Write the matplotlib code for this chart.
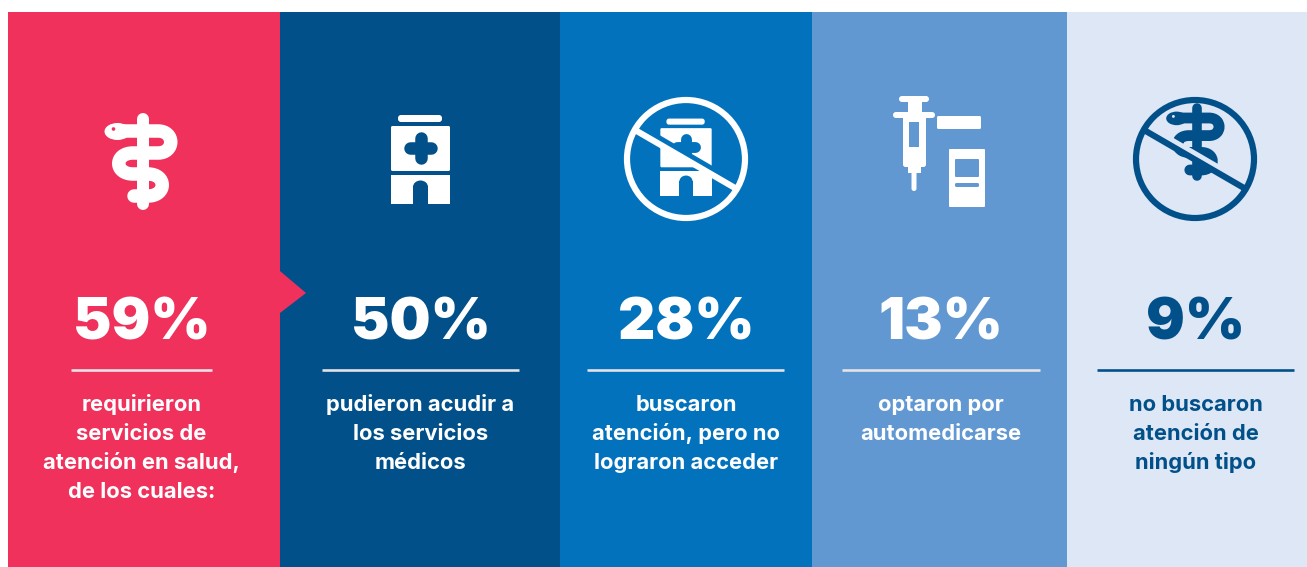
"""Health-care access infographic: five coloured panels with icons and percentages."""

from __future__ import annotations

import matplotlib

matplotlib.use("Agg")
import matplotlib.pyplot as plt
from matplotlib.patches import Circle, Ellipse, FancyBboxPatch, PathPatch, Polygon, Rectangle
from matplotlib.path import Path

percent_labels = ["59%", "50%", "28%", "13%", "9%"]
descriptions = [
    ["requirieron", "servicios de", "atención en salud,", "de los cuales:"],
    ["pudieron acudir a", "los servicios", "médicos"],
    ["buscaron", "atención, pero no", "lograron acceder"],
    ["optaron por", "automedicarse"],
    ["no buscaron", "atención de", "ningún tipo"],
]
panel_colors = ["#EF315C", "#015089", "#0372BC", "#6298D2", "#DEE7F6"]
text_colors = ["white", "white", "white", "white", "#015089"]
rule_colors = ["#E4E4E8", "#E4E4E8", "#E4E4E8", "#E4E4E8", "#015089"]

# layout, in reference pixels
panel_edges = [8, 280, 560, 812, 1067, 1307]
text_centers = [141.5, 420.5, 686, 941, 1195.5]
rule_spans = [(71, 212), (322, 519), (587, 784), (842, 1040), (1097, 1294)]
line_baselines = [411, 440, 469, 498]

PX = 72 / 100  # points per pixel at dpi 100


def rounded(ax, x0, y0, x1, y1, color, radius=2.0, zorder=3):
    ax.add_patch(
        FancyBboxPatch(
            (x0 + radius, y0 + radius),
            x1 - x0 - 2 * radius,
            y1 - y0 - 2 * radius,
            boxstyle=f"round,pad={radius},rounding_size={radius}",
            fc=color,
            ec="none",
            zorder=zorder,
        )
    )


def draw_snake(ax, color, bg, ox=143.0, oy=131.0, tx=143.0, ty=131.0, s=1.0, zorder=3):
    """Rod of Asclepius, drawn in its own pixel frame and moved to (tx, ty)."""

    def m(x, y):
        return (tx + (x - ox) * s, ty + (y - oy) * s)

    ax.plot(*zip(m(143, 119), m(143, 204)), color=color, lw=12 * s * PX,
            solid_capstyle="round", zorder=zorder)
    points = [(120, 131), (158, 131), (175, 131), (175, 153), (158, 153),
              (133, 153), (114, 153), (114, 174), (133, 174),
              (148, 174), (167, 174), (167, 196), (148, 196), (134, 196)]
    codes = [Path.MOVETO, Path.LINETO, Path.CURVE4, Path.CURVE4, Path.CURVE4,
             Path.LINETO, Path.CURVE4, Path.CURVE4, Path.CURVE4,
             Path.LINETO, Path.CURVE4, Path.CURVE4, Path.CURVE4, Path.LINETO]
    path = Path([m(*p) for p in points], codes)
    ax.add_patch(PathPatch(path, fc="none", ec=color, lw=13.5 * s * PX,
                           capstyle="round", joinstyle="round", zorder=zorder))
    ax.add_patch(Ellipse(m(117.5, 131.5), 26 * s, 17 * s, fc=color, ec="none", zorder=zorder))
    ax.add_patch(Circle(m(113.5, 129), 1.8 * s, fc=bg, ec="none", zorder=zorder + 0.1))


def draw_hospital(ax, color, bg, cx, bottom, s=1.0, zorder=3):
    def m(x, y):
        return (cx + (x - 420.5) * s, bottom + (y - 204) * s)

    rounded(ax, *m(398, 115), *m(442, 122), color, radius=3 * s, zorder=zorder)
    rounded(ax, *m(391, 126), *m(450, 171), color, radius=1.5 * s, zorder=zorder)
    x0, y0 = m(391, 175)
    x1, y1 = m(450, 204)
    ax.add_patch(Rectangle((x0, y0), x1 - x0, y1 - y0, fc=color, ec="none", zorder=zorder))
    # door
    x0, y0 = m(413, 187)
    x1, y1 = m(428, 204)
    ax.add_patch(Rectangle((x0, y0), x1 - x0, y1 - y0, fc=bg, ec="none", zorder=zorder + 0.1))
    ax.add_patch(Ellipse(m(420.5, 187), 15 * s, 13 * s, fc=bg, ec="none", zorder=zorder + 0.1))
    # cross
    for a, b in [((420.5, 138), (420.5, 158)), ((410, 148), (431, 148))]:
        ax.plot(*zip(m(*a), m(*b)), color=bg, lw=12.5 * s * PX,
                solid_capstyle="round", zorder=zorder + 0.1)


def draw_ban(ax, color, bg, cx, zorder=5):
    a = (cx - 51, 130)
    b = (cx + 49, 188)
    # gap just above the slash
    ax.plot([a[0] + 2, b[0] - 2], [a[1] - 4, b[1] - 6], color=bg, lw=7 * PX,
            solid_capstyle="butt", zorder=zorder - 0.5)
    ax.plot([a[0], b[0]], [a[1], b[1]], color=color, lw=6.2 * PX,
            solid_capstyle="butt", zorder=zorder)
    ax.add_patch(Circle((cx, 159), 59, fc="none", ec=color, lw=6.2 * PX, zorder=zorder))


def draw_syringe(ax, color, bg):
    rounded(ax, 899, 96, 929, 102, color, radius=3)
    ax.add_patch(Rectangle((908, 101), 14, 12, fc=color, ec="none", zorder=3))
    rounded(ax, 893, 112, 935, 118, color, radius=3)
    rounded(ax, 903, 116, 926, 167, color, radius=2.5)
    ax.add_patch(Rectangle((908, 165), 13, 8, fc=color, ec="none", zorder=3))
    rounded(ax, 911.5, 170, 916.5, 191, color, radius=2.5)
    ax.add_patch(Rectangle((909, 122), 10, 25, fc=bg, ec="none", zorder=3.1))
    # loose cap and vial
    rounded(ax, 937, 116, 981, 129, color, radius=1.5)
    rounded(ax, 949, 149, 985, 207, color, radius=1)
    rounded(ax, 955, 159, 979, 177, bg, radius=1, zorder=3.1)
    rounded(ax, 955, 183, 979, 187, bg, radius=1.5, zorder=3.1)


def main() -> None:
    fig = plt.figure(figsize=(13.07, 5.67), dpi=100, facecolor="white")
    ax = fig.add_axes([0, 0, 1, 1])
    ax.set_xlim(0, 1307)
    ax.set_ylim(567, 0)
    ax.axis("off")

    for i, color in enumerate(panel_colors):
        ax.add_patch(Rectangle((panel_edges[i], 12), panel_edges[i + 1] - panel_edges[i], 555,
                               fc=color, ec="none", zorder=1))
    ax.add_patch(Polygon([(280, 271), (306, 293), (280, 313)], fc=panel_colors[0], ec="none", zorder=2))

    draw_snake(ax, "white", panel_colors[0])
    draw_hospital(ax, "white", panel_colors[1], 420.5, 204)
    draw_hospital(ax, "white", panel_colors[2], 686, 196, s=0.87)
    draw_ban(ax, "white", panel_colors[2], 686)
    draw_syringe(ax, "white", panel_colors[3])
    draw_snake(ax, panel_colors[1], panel_colors[4], tx=1197, ty=118, s=0.8)
    draw_ban(ax, panel_colors[1], panel_colors[4], 1195)

    for i, label in enumerate(percent_labels):
        ax.text(text_centers[i], 340, label, color=text_colors[i], ha="center", va="baseline",
                fontsize=41.5, fontfamily="Inter", fontweight="black", zorder=4)
        ax.plot(rule_spans[i], [370, 370], color=rule_colors[i], lw=2.6 * PX,
                solid_capstyle="butt", zorder=4)
        for line, y in zip(descriptions[i], line_baselines):
            ax.text(text_centers[i], y, line, color=text_colors[i], ha="center", va="baseline",
                    fontsize=15.8, fontfamily="Inter", fontweight="bold", zorder=4)

    fig.savefig("out.png", dpi=100)


if __name__ == "__main__":
    main()
